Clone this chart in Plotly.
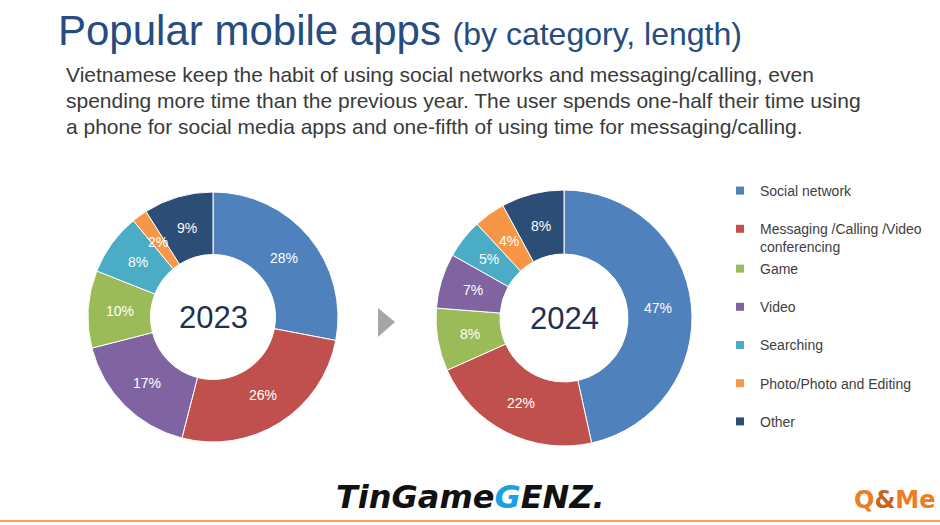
import math
import plotly.graph_objects as go

# ---------------- data ----------------
years = ["2023", "2024"]
categories_2023 = ["Social network", "Messaging /Calling /Video conferencing", "Video", "Game",
                   "Searching", "Photo/Photo and Editing", "Other"]
values_2023 = [28, 26, 17, 10, 8, 2, 9]
categories_2024 = ["Social network", "Messaging /Calling /Video conferencing", "Game", "Video",
                   "Searching", "Photo/Photo and Editing", "Other"]
values_2024 = [47, 22, 8, 7, 5, 4, 8]
legend_categories = categories_2024
legend_labels = ["Social network", "Messaging /Calling /Video<br>conferencing", "Game", "Video",
                 "Searching", "Photo/Photo and Editing", "Other"]
category_colors = {
    "Social network": "#4F81BD",
    "Messaging /Calling /Video conferencing": "#C0504D",
    "Game": "#9BBB59",
    "Video": "#8064A2",
    "Searching": "#4BACC6",
    "Photo/Photo and Editing": "#F79646",
    "Other": "#2C4D75",
}
title_main = "Popular mobile apps"
title_sub = "(by category, length)"
subtitle_lines = [
    "Vietnamese keep the habit of using social networks and messaging/calling, even",
    "spending more time than the previous year. The user spends one-half their time using",
    "a phone for social media apps and one-fifth of using time for messaging/calling.",
]

W, H = 940, 525
FONT = "Liberation Sans, Arial, sans-serif"
HOLE = 0.5

def px_x(x):
    return x / W

def px_y(y):
    return 1 - y / H

# donut boxes in pixels (left, top, right, bottom)
pie_boxes = [(88, 192, 338, 442), (436, 190, 692, 446)]
domains = [dict(x=[px_x(b[0]), px_x(b[2])], y=[px_y(b[3]), px_y(b[1])]) for b in pie_boxes]

fig = go.Figure()
annotations = []

for cats, vals, dom, box in [(categories_2023, values_2023, domains[0], pie_boxes[0]),
                             (categories_2024, values_2024, domains[1], pie_boxes[1])]:
    fig.add_trace(go.Pie(
        labels=cats, values=vals, text=[f"{v}%" for v in vals],
        textinfo="none",
        marker=dict(colors=[category_colors[c] for c in cats], line=dict(color="white", width=1)),
        hole=HOLE, sort=False, direction="clockwise", rotation=0,
        domain=dom, showlegend=False, hoverinfo="label+text",
    ))
    # percentage labels at the middle of the ring, at each slice's mid-angle
    cx, cy = (box[0] + box[2]) / 2, (box[1] + box[3]) / 2
    r_out = min(box[2] - box[0], box[3] - box[1]) / 2
    r_mid = r_out * (1 + HOLE) / 2 - 1
    total = sum(vals)
    cum = 0
    for v in vals:
        ang = 2 * math.pi * (cum + v / 2) / total  # clockwise from 12 o'clock
        cum += v
        lx = cx + r_mid * math.sin(ang)
        ly = cy - r_mid * math.cos(ang)
        annotations.append(dict(
            x=px_x(lx), y=px_y(ly), xref="paper", yref="paper", xanchor="center", yanchor="middle",
            text=f"{v}%", showarrow=False, font=dict(family=FONT, color="white", size=14),
        ))

# legend entries (two legends so that the two-line entry doesn't shift the rest)
for i, (cat, lab) in enumerate(zip(legend_categories, legend_labels)):
    fig.add_trace(go.Scatter(
        x=[None], y=[None], mode="markers", name=lab,
        marker=dict(symbol="square", size=8, color=category_colors[cat]),
        legend="legend" if i < 2 else "legend2", legendgroup=cat, showlegend=True,
    ))

legend_common = dict(font=dict(family=FONT, size=14, color="#404040"), bgcolor="rgba(0,0,0,0)",
                     traceorder="grouped", tracegroupgap=17, valign="top", itemwidth=30,
                     xanchor="left", yanchor="top", itemclick=False, itemdoubleclick=False)

annotations.append(dict(
    x=px_x(56), y=px_y(31), xref="paper", yref="paper", xanchor="left", yanchor="middle",
    text=f'<span style="font-size:42px">{title_main}</span> <span style="font-size:32px">{title_sub}</span>',
    showarrow=False, font=dict(family=FONT, color="#264C80", size=42),
))
for k, line in enumerate(subtitle_lines):
    annotations.append(dict(
        x=px_x(64), y=px_y(74 + 26 * k), xref="paper", yref="paper", xanchor="left", yanchor="middle",
        text=line, showarrow=False, font=dict(family=FONT, color="#3A3A3A", size=21),
    ))
for yr, dom in zip(years, domains):
    annotations.append(dict(
        x=(dom["x"][0] + dom["x"][1]) / 2, y=(dom["y"][0] + dom["y"][1]) / 2,
        xref="paper", yref="paper", xanchor="center", yanchor="middle",
        text=yr, showarrow=False, font=dict(family=FONT, color="#1F3050", size=31),
    ))
annotations.append(dict(
    x=px_x(470), y=px_y(497), xref="paper", yref="paper", xanchor="center", yanchor="middle",
    text='<b><i>TinGame<span style="color:#1BA1E2">G</span>ENZ.</i></b>', showarrow=False,
    font=dict(family="DejaVu Sans, sans-serif", color="#111111", size=32),
))
annotations.append(dict(
    x=px_x(938), y=px_y(500), xref="paper", yref="paper", xanchor="right", yanchor="middle",
    text='<b>Q<span style="color:#C8641E">&</span>Me</b>', showarrow=False,
    font=dict(family="DejaVu Sans, sans-serif", color="#EE7D22", size=24),
))

shapes = [
    dict(type="path", xref="paper", yref="paper",
         path=f"M {px_x(378)},{px_y(308)} L {px_x(395)},{px_y(322)} L {px_x(378)},{px_y(337)} Z",
         fillcolor="#A6A6A6", line=dict(width=0)),
    dict(type="line", xref="paper", yref="paper", x0=0, x1=1, y0=px_y(521), y1=px_y(521),
         line=dict(color="#F5A35A", width=2)),
]

fig.update_layout(
    width=W, height=H, margin=dict(l=0, r=0, t=0, b=0),
    paper_bgcolor="white", plot_bgcolor="white",
    xaxis=dict(visible=False), yaxis=dict(visible=False),
    legend=dict(x=px_x(720), y=px_y(175), **legend_common),
    legend2=dict(x=px_x(720), y=px_y(253), **legend_common),
    annotations=annotations, shapes=shapes,
)

fig.write_html("out.html")
